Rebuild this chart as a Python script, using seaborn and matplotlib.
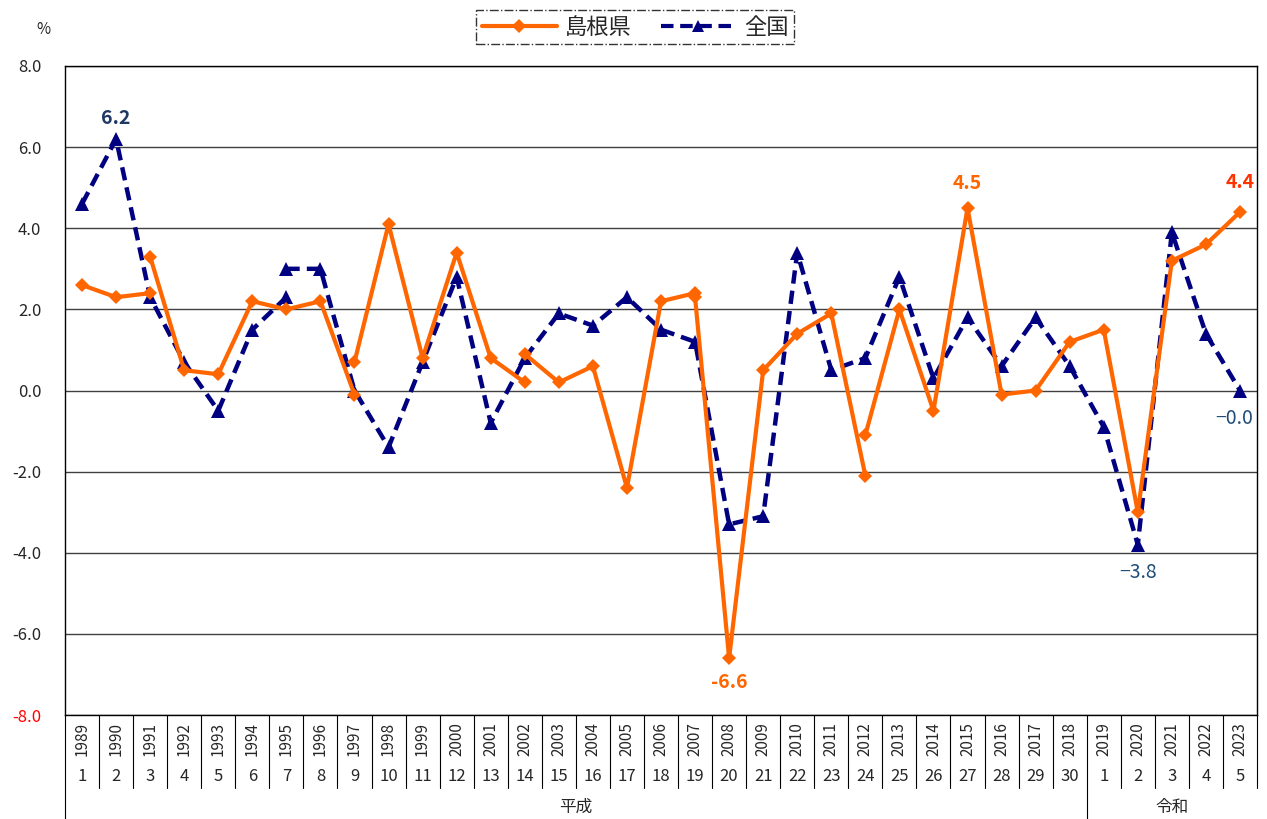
import numpy as np
import pandas as pd
import matplotlib
matplotlib.use("Agg")
import matplotlib.pyplot as plt
import matplotlib.transforms as mtransforms
from matplotlib.lines import Line2D
import seaborn as sns

# categories
years = list(range(1989, 2024))
era_years = [str(i) for i in range(1, 31)] + [str(i) for i in range(1, 6)]
era_names = ["平成", "令和"]
era_first = [0, 30]
era_last = [29, 34]

# 島根県 (series break where the base year changes)
shimane_starts = [1989, 1991, 1997, 2002, 2007, 2012]
shimane_values = [
    [2.6, 2.3, 2.4],
    [3.3, 0.5, 0.4, 2.2, 2.0, 2.2, -0.1],
    [0.7, 4.1, 0.8, 3.4, 0.8, 0.2],
    [0.9, 0.2, 0.6, -2.4, 2.2, 2.4],
    [2.3, -6.6, 0.5, 1.4, 1.9, -2.1],
    [-1.1, 2.0, -0.5, 4.5, -0.1, 0.0, 1.2, 1.5, -3.0, 3.2, 3.6, 4.4],
]

# 全国
national_starts = [1989, 1995]
national_values = [
    [4.6, 6.2, 2.3, 0.7, -0.5, 1.5, 2.3],
    [3.0, 3.0, -0.0, -1.4, 0.7, 2.8, -0.8, 0.8, 1.9, 1.6, 2.3, 1.5, 1.2,
     -3.3, -3.1, 3.4, 0.5, 0.8, 2.8, 0.3, 1.8, 0.6, 1.8, 0.6, -0.9, -3.8,
     3.9, 1.4, -0.0],
]

yticks = [-8, -6, -4, -2, 0, 2, 4, 6, 8]
ytick_labels = ["-8.0", "-6.0", "-4.0", "-2.0", "0.0", "2.0", "4.0", "6.0", "8.0"]

orange = "#FF6600"
navy = "#000080"

rows = []
for name, starts, values in [("島根県", shimane_starts, shimane_values),
                             ("全国", national_starts, national_values)]:
    for k, (s, vals) in enumerate(zip(starts, values)):
        p0 = years.index(s)
        for i, v in enumerate(vals):
            rows.append({"series": name, "seg": k, "pos": p0 + i, "value": v})
df = pd.DataFrame(rows)

sns.set_theme(style="white")
plt.rcParams["font.family"] = ["Noto Sans CJK JP", "DejaVu Sans"]

fig = plt.figure(figsize=(12.67, 8.19), dpi=100)
ax = fig.add_axes([65 / 1267, 1 - 715 / 819, 1192 / 1267, 649 / 819])

sns.lineplot(data=df[df.series == "全国"], x="pos", y="value", units="seg",
             estimator=None, color=navy, linewidth=3.2, linestyle=(0, (3, 1.6)),
             marker="^", markersize=10, markeredgecolor=navy, markeredgewidth=0,
             ax=ax, legend=False)
sns.lineplot(data=df[df.series == "島根県"], x="pos", y="value", units="seg",
             estimator=None, color=orange, linewidth=3, marker="D",
             markersize=7, markeredgecolor=orange, markeredgewidth=0,
             ax=ax, legend=False)

ax.set_xlim(-0.5, len(years) - 0.5)
ax.set_ylim(-8, 8)
ax.set_yticks(yticks)
ax.set_yticklabels(ytick_labels, fontsize=12)
for lab in ax.get_yticklabels():
    if lab.get_text() == "-8.0":
        lab.set_color("red")
ax.tick_params(axis="y", length=0, pad=17)
ax.set_xticks([])
ax.set_xlabel("")
ax.set_ylabel("")
ax.yaxis.grid(True, color="#404040", linewidth=1)
for sp in ax.spines.values():
    sp.set_color("black")
    sp.set_linewidth(1)

# bottom table with years and era years
trans = mtransforms.blended_transform_factory(ax.transData, ax.transAxes)
for i, y in enumerate(years):
    ax.text(i, -0.037, str(y), transform=trans, rotation=90, ha="center",
            va="center", fontsize=11)
    ax.text(i, -0.094, era_years[i], transform=trans, ha="center",
            va="center", fontsize=12)
for k in range(len(years) + 1):
    bottom = -0.160 if k in (0, 30) else -0.1125
    ax.add_line(Line2D([k - 0.5, k - 0.5], [0, bottom], transform=trans,
                       color="black", linewidth=0.8, clip_on=False))
for name, a, b in zip(era_names, era_first, era_last):
    ax.text((a + b) / 2, -0.142, name, transform=trans, ha="center",
            va="center", fontsize=12)

# data labels
def label(x, y, txt, color, dy, bold=True, dx=0):
    ax.annotate(txt, (x, y), xytext=(dx, dy), textcoords="offset pixels",
                ha="center", va="center", color=color, fontsize=14,
                fontweight="bold" if bold else "normal")

label(1, 6.2, "6.2", "#1F3864", 21)
label(26, 4.5, "4.5", orange, 24)
label(19, -6.6, "-6.6", orange, -24)
label(34, 4.4, "4.4", "#FF3300", 30)
label(31, -3.8, "\u22123.8", "#1F4E79", -28, bold=False)
label(34, -0.0, "\u22120.0", "#1F4E79", -28, bold=False, dx=-6)

fig.text(43 / 1267, 1 - 30 / 819, "%", ha="center", va="center", fontsize=11)

handles = [
    Line2D([], [], color=orange, linewidth=3, marker="D", markersize=7,
           markeredgewidth=0),
    Line2D([], [], color=navy, linewidth=3, linestyle=(0, (3, 1.6)),
           marker="^", markersize=9, markeredgewidth=0),
]
leg = fig.legend(handles, ["島根県", "全国"], loc="center",
                 bbox_to_anchor=(635 / 1267, 1 - 27 / 819), ncol=2,
                 frameon=True, fancybox=False, edgecolor="black",
                 fontsize=16, handlelength=3.4, columnspacing=1.3,
                 borderpad=0.25, handletextpad=0.35, borderaxespad=0)
frame = leg.get_frame()
frame.set_linestyle("-.")
frame.set_linewidth(1)

fig.savefig("out.png", dpi=100)
